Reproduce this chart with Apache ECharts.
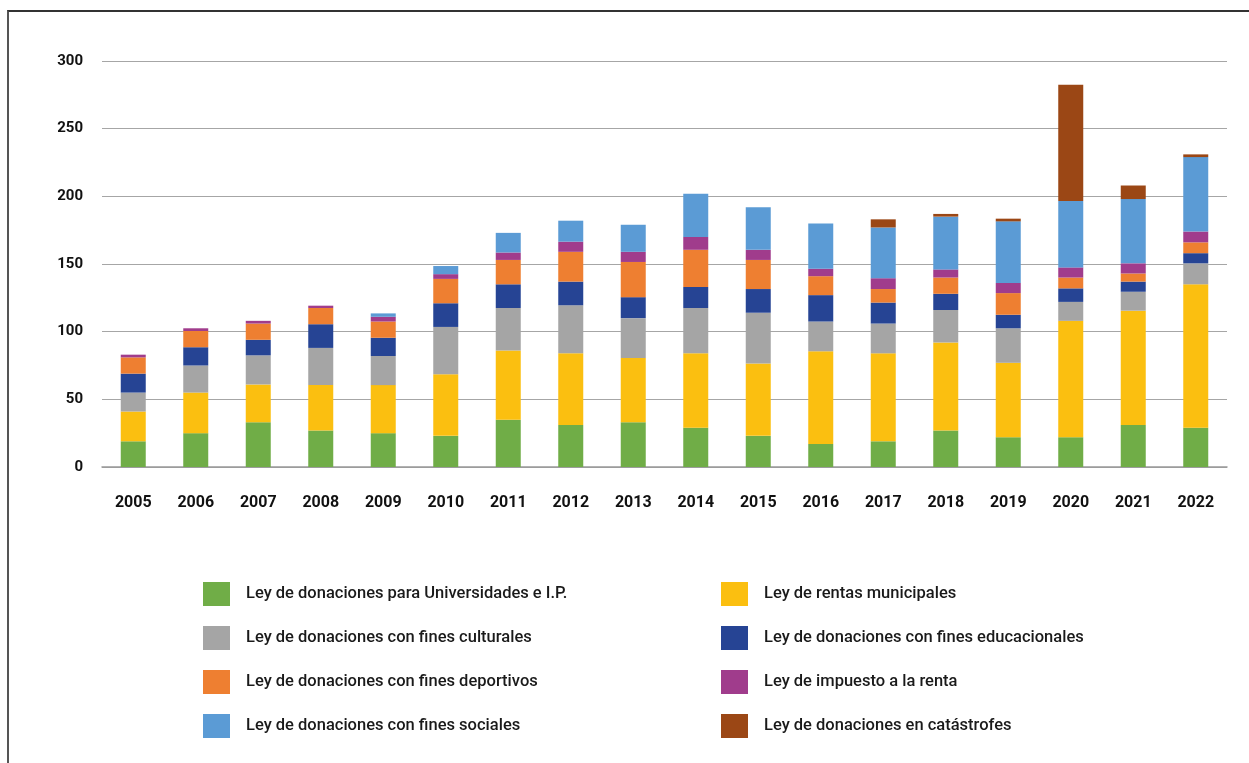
<!DOCTYPE html>
<html>
<head>
<meta charset="utf-8">
<title>Donaciones por ley</title>
<script src="https://cdn.jsdelivr.net/npm/echarts@6/dist/echarts.min.js"></script>
<style>
    html, body { margin: 0; padding: 0; background: #fff; }
    #frame {
        position: absolute; left: 7px; top: 10px; width: 1260px; height: 770px;
        border-left: 2px solid #555; border-top: 2px solid #333;
    }
    #container { position: absolute; left: 0; top: 0; width: 1249px; height: 763px; }
</style>
</head>
<body>
<div id="frame"></div>
<div id="container"></div>
<script type="text/javascript">
    // datos (por año, de abajo hacia arriba)
    var years = ['2005','2006','2007','2008','2009','2010','2011','2012','2013','2014','2015','2016','2017','2018','2019','2020','2021','2022'];
    var yTicks = [0, 50, 100, 150, 200, 250, 300];

    var universidades = [19, 25, 33, 27, 25, 23, 35, 31, 33, 29, 23, 17, 19, 27, 22, 22, 31, 29];
    var rentasMunicipales = [22, 30, 28, 33.5, 35.5, 45.5, 51, 53, 47.5, 55, 53.5, 68.5, 65, 65, 55, 86, 84.5, 106];
    var culturales = [14, 20, 21.5, 27.5, 21.5, 35, 31.5, 35.5, 29.5, 33.5, 37.5, 22, 22, 24, 25.5, 14, 14, 15.5];
    var educacionales = [14, 13.5, 11.5, 17.5, 13.5, 17.5, 17.5, 17.5, 15.5, 15.5, 17.5, 19.5, 15.5, 12, 10, 10, 7.5, 7.5];
    var deportivos = [12, 12, 12, 12, 12, 18, 18, 22, 26, 27.5, 21.5, 14, 10, 12, 16, 8, 6, 8];
    var impuestoRenta = [2, 2, 2, 1.7, 3.5, 3.5, 5.5, 7.5, 7.5, 9.5, 7.5, 5.5, 8, 6, 7.5, 7.5, 7.5, 8];
    var sociales = [0, 0, 0, 0, 2.5, 6, 14.5, 15.5, 20, 32, 31.5, 33.5, 37.5, 39, 45.5, 49, 47.5, 55];
    var catastrofes = [0, 0, 0, 0, 0, 0, 0, 0, 0, 0, 0, 0, 6, 2, 2, 86, 10, 2];

    var names = [
        'Ley de donaciones para Universidades e I.P.',
        'Ley de rentas municipales',
        'Ley de donaciones con fines culturales',
        'Ley de donaciones con fines educacionales',
        'Ley de donaciones con fines deportivos',
        'Ley de impuesto a la renta',
        'Ley de donaciones con fines sociales',
        'Ley de donaciones en catástrofes'
    ];
    var colors = ['#70AD47', '#FBBF10', '#A5A5A5', '#264494', '#EE7F31', '#A03C8C', '#5B9BD5', '#9B4715'];
    var values = [universidades, rentasMunicipales, culturales, educacionales, deportivos, impuestoRenta, sociales, catastrofes];

    var font = 'Roboto, "Noto Sans", sans-serif';

    var series = [];
    for (var i = 0; i < names.length; i++) {
        series.push({
            name: names[i],
            type: 'bar',
            stack: 'total',
            barWidth: 25,
            itemStyle: { color: colors[i] },
            data: values[i]
        });
    }

    function legendCfg(left, items) {
        return {
            orient: 'vertical',
            left: left,
            top: 582,
            padding: 0,
            itemWidth: 27,
            itemHeight: 24,
            itemGap: 20,
            icon: 'rect',
            data: items,
            textStyle: {
                fontFamily: font, fontSize: 16.5, fontWeight: 500, color: '#1a1a1a',
                padding: [0, 0, 0, 11]
            }
        };
    }

    var myChart = echarts.init(document.getElementById('container'));
    var option = {
        animation: false,
        color: colors,
        grid: { left: 102, right: 22, top: 61, bottom: 296, containLabel: false },
        legend: [
            legendCfg(203, [names[0], names[2], names[4], names[6]]),
            legendCfg(721, [names[1], names[3], names[5], names[7]])
        ],
        xAxis: {
            type: 'category',
            data: years,
            axisTick: { show: false },
            axisLine: { lineStyle: { color: '#999', width: 1.5 } },
            axisLabel: { margin: 28, fontFamily: font, fontSize: 16, fontWeight: 'bold', color: '#111' }
        },
        yAxis: {
            type: 'value',
            min: yTicks[0],
            max: yTicks[yTicks.length - 1],
            interval: 50,
            axisLine: { show: false },
            axisTick: { show: false },
            splitLine: { lineStyle: { color: '#a6a6a6', width: 1.2 } },
            axisLabel: { margin: 19, fontFamily: font, fontSize: 15, fontWeight: 'bold', color: '#111' }
        },
        series: series
    };
    myChart.setOption(option);
</script>
</body>
</html>
